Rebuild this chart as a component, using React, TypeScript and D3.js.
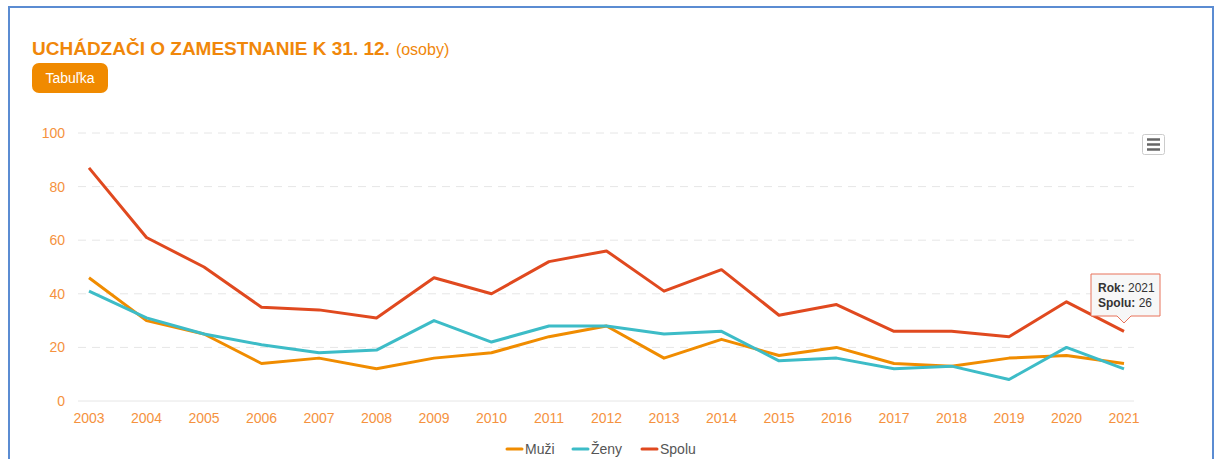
import React, { useEffect, useRef } from "react";
import * as d3 from "d3";

const years = [2003, 2004, 2005, 2006, 2007, 2008, 2009, 2010, 2011, 2012, 2013, 2014, 2015, 2016, 2017, 2018, 2019, 2020, 2021];
const muzi = [46, 30, 25, 14, 16, 12, 16, 18, 24, 28, 16, 23, 17, 20, 14, 13, 16, 17, 14];
const zeny = [41, 31, 25, 21, 18, 19, 30, 22, 28, 28, 25, 26, 15, 16, 12, 13, 8, 20, 12];
const spolu = [87, 61, 50, 35, 34, 31, 46, 40, 52, 56, 41, 49, 32, 36, 26, 26, 24, 37, 26];
const yTicks = [0, 20, 40, 60, 80, 100];

const seriesList = [
  { name: "Muži", values: muzi, color: "#f08c00" },
  { name: "Ženy", values: zeny, color: "#3dbcc7" },
  { name: "Spolu", values: spolu, color: "#e0491f" },
];

const App = () => {
  const ref = useRef<SVGSVGElement>(null);

  useEffect(() => {
    const svg = d3.select(ref.current);
    svg.selectAll("*").remove();

    const font = "Arial, 'Liberation Sans', sans-serif";
    const tickColor = "#f5923e";

    // frame
    svg
      .append("rect")
      .attr("x", 9)
      .attr("y", 7)
      .attr("width", 1204)
      .attr("height", 470)
      .attr("fill", "#fff")
      .attr("stroke", "#5b8cd2")
      .attr("stroke-width", 2);

    // title
    const title = svg
      .append("text")
      .attr("x", 32)
      .attr("y", 55)
      .attr("font-family", font)
      .attr("fill", "#f0870a");
    title.append("tspan").attr("font-size", 19).attr("font-weight", "bold").text("UCHÁDZAČI O ZAMESTNANIE K 31. 12.");
    title.append("tspan").attr("font-size", 16).attr("dx", 6).text("(osoby)");

    // button
    svg
      .append("rect")
      .attr("x", 32)
      .attr("y", 63)
      .attr("width", 76)
      .attr("height", 30)
      .attr("rx", 7)
      .attr("fill", "#f08a00");
    svg
      .append("text")
      .attr("x", 70)
      .attr("y", 83)
      .attr("text-anchor", "middle")
      .attr("font-family", font)
      .attr("font-size", 14)
      .attr("fill", "#fff")
      .text("Tabuľka");

    const x = d3.scalePoint<number>().domain(years).range([89, 1124]);
    const y = d3.scaleLinear().domain([0, 100]).range([401, 133]);

    // grid
    svg
      .append("g")
      .selectAll("line")
      .data(yTicks.filter((t) => t > 0))
      .join("line")
      .attr("x1", 78)
      .attr("x2", 1134)
      .attr("y1", (d) => y(d))
      .attr("y2", (d) => y(d))
      .attr("stroke", "#e6e6e6")
      .attr("stroke-dasharray", "8,6");

    svg
      .append("line")
      .attr("x1", 78)
      .attr("x2", 1134)
      .attr("y1", y(0))
      .attr("y2", y(0))
      .attr("stroke", "#e6e6e6");

    // y labels
    svg
      .append("g")
      .selectAll("text")
      .data(yTicks)
      .join("text")
      .attr("x", 65)
      .attr("y", (d) => y(d) + 5)
      .attr("text-anchor", "end")
      .attr("font-family", font)
      .attr("font-size", 14)
      .attr("fill", tickColor)
      .text((d) => d);

    // x labels
    svg
      .append("g")
      .selectAll("text")
      .data(years)
      .join("text")
      .attr("x", (d) => x(d)!)
      .attr("y", 423)
      .attr("text-anchor", "middle")
      .attr("font-family", font)
      .attr("font-size", 14)
      .attr("fill", tickColor)
      .text((d) => d);

    const line = d3
      .line<number>()
      .x((_, i) => x(years[i])!)
      .y((d) => y(d));

    seriesList.forEach((s) => {
      svg
        .append("path")
        .datum(s.values)
        .attr("d", line)
        .attr("fill", "none")
        .attr("stroke", s.color)
        .attr("stroke-width", 3)
        .attr("stroke-linejoin", "round");
    });

    // legend
    const legendX = [507, 573, 642];
    seriesList.forEach((s, i) => {
      const g = svg.append("g").attr("transform", `translate(${legendX[i]},449)`);
      g.append("line")
        .attr("x1", 0)
        .attr("x2", 15)
        .attr("stroke", s.color)
        .attr("stroke-width", 3)
        .attr("stroke-linecap", "round");
      g.append("text")
        .attr("x", 18)
        .attr("y", 5)
        .attr("font-family", font)
        .attr("font-size", 14)
        .attr("fill", "#555")
        .text(s.name);
    });

    // menu button
    svg
      .append("rect")
      .attr("x", 1142.5)
      .attr("y", 134.5)
      .attr("width", 22)
      .attr("height", 20)
      .attr("rx", 2)
      .attr("fill", "#fff")
      .attr("stroke", "#ccc");
    [139.5, 144.5, 149.5].forEach((yy) => {
      svg
        .append("line")
        .attr("x1", 1147)
        .attr("x2", 1160)
        .attr("y1", yy)
        .attr("y2", yy)
        .attr("stroke", "#666")
        .attr("stroke-width", 2.5);
    });

    // tooltip
    const last = years.length - 1;
    const px = x(years[last])!;
    const tx = 1091;
    const ty = 274;
    const tw = 69;
    const th = 42;
    const tip = d3.path();
    tip.moveTo(tx, ty);
    tip.lineTo(tx + tw, ty);
    tip.lineTo(tx + tw, ty + th);
    tip.lineTo(px + 7, ty + th);
    tip.lineTo(px, ty + th + 7);
    tip.lineTo(px - 7, ty + th);
    tip.lineTo(tx, ty + th);
    tip.closePath();
    svg
      .append("path")
      .attr("d", tip.toString())
      .attr("fill", "#f7f7f7")
      .attr("stroke", "#e8735a")
      .attr("stroke-width", 1);
    const t1 = svg
      .append("text")
      .attr("x", tx + 7)
      .attr("y", ty + 18)
      .attr("font-family", font)
      .attr("font-size", 12)
      .attr("fill", "#333");
    t1.append("tspan").attr("font-weight", "bold").text("Rok:");
    t1.append("tspan").text(" " + years[last]);
    const t2 = svg
      .append("text")
      .attr("x", tx + 7)
      .attr("y", ty + 33)
      .attr("font-family", font)
      .attr("font-size", 12)
      .attr("fill", "#333");
    t2.append("tspan").attr("font-weight", "bold").text("Spolu:");
    t2.append("tspan").text(" " + spolu[last]);
  }, []);

  return (
    <svg
      ref={ref}
      width={1221}
      height={459}
      style={{ position: "absolute", left: 0, top: 0, display: "block" }}
    ></svg>
  );
};

export default App;
